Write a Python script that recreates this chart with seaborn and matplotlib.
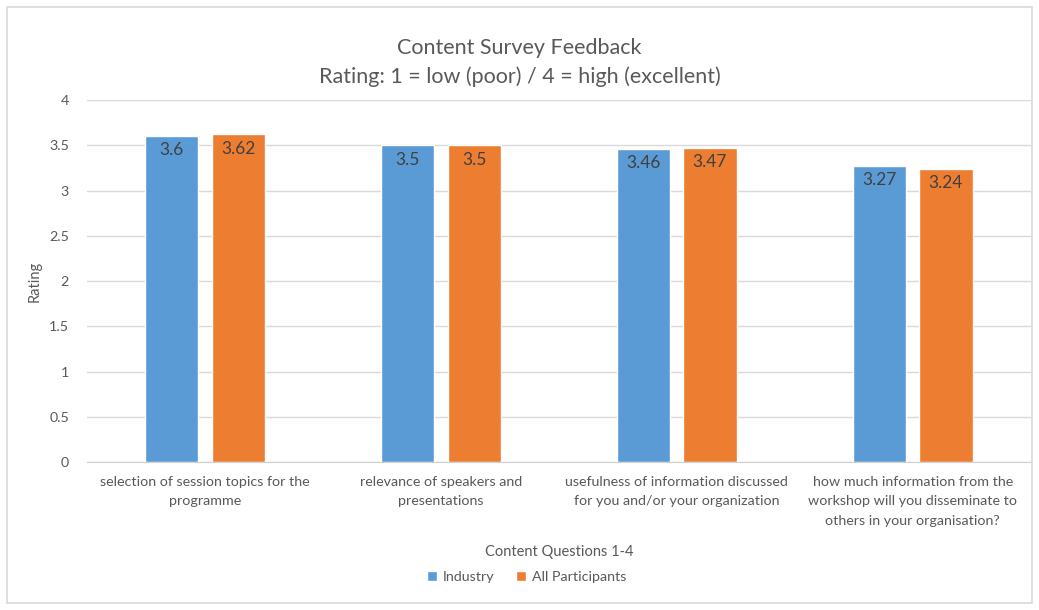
import numpy as np
import pandas as pd
import matplotlib
matplotlib.use("Agg")
import matplotlib.pyplot as plt
import seaborn as sns
from matplotlib.patches import Rectangle

# dados
questions = [
    "selection of session topics for the\nprogramme",
    "relevance of speakers and\npresentations",
    "usefulness of information discussed\nfor you and/or your organization",
    "how much information from the\nworkshop will you disseminate to\nothers in your organisation?",
]
industry = [3.6, 3.5, 3.46, 3.27]
all_participants = [3.62, 3.5, 3.47, 3.24]
series = ["Industry", "All Participants"]
colors = ["#5B9BD5", "#ED7D31"]

df = pd.DataFrame({
    "question": questions * 2,
    "group": [series[0]] * 4 + [series[1]] * 4,
    "rating": industry + all_participants,
})

sns.set_style("white")
plt.rcParams["font.family"] = ["Lato", "DejaVu Sans"]
grey = "#595959"

fig = plt.figure(figsize=(10.39, 6.10), dpi=100)
ax = fig.add_axes([0.0837, 0.2426, 0.9083, 0.5934])

sns.barplot(data=df, x="question", y="rating", hue="group", palette=colors,
            width=0.564, gap=0.2, ax=ax, saturation=1)

for c in ax.containers:
    ax.bar_label(c, labels=[f"{v:g}" for v in c.datavalues], padding=-16,
                 fontsize=12.5, color="#404040")

ax.set_ylim(0, 4)
ax.set_yticks(np.arange(0, 4.01, 0.5))
ax.set_yticklabels(["0", "0.5", "1", "1.5", "2", "2.5", "3", "3.5", "4"])
ax.set_xlim(-0.5, 3.5)
ax.yaxis.grid(True, color="#d9d9d9", linewidth=1)
ax.set_axisbelow(True)
for s in ["left", "right", "top"]:
    ax.spines[s].set_visible(False)
ax.spines["bottom"].set_color("#d0d0d0")
ax.tick_params(axis="both", length=0, colors=grey, labelsize=10.3)
ax.tick_params(axis="x", pad=10)
ax.tick_params(axis="y", pad=13)
for t in ax.get_xticklabels():
    t.set_linespacing(1.75)

ax.set_ylabel("Rating", color=grey, fontsize=10.5)
ax.yaxis.set_label_coords(-0.048, 0.5)
ax.set_xlabel("Content Questions 1-4", color=grey, fontsize=10.5)
ax.xaxis.set_label_coords(0.5, -0.23)

fig.text(0.5, 0.921, "Content Survey Feedback", ha="center", va="center",
         fontsize=15.5, color=grey)
fig.text(0.5, 0.874, "Rating: 1 = low (poor) / 4 = high (excellent)", ha="center",
         va="center", fontsize=15.5, color=grey)

ax.legend(loc="center", bbox_to_anchor=(0.507, 0.054), bbox_transform=fig.transFigure,
          ncol=2, frameon=False, fontsize=10.3, handlelength=0.7, handleheight=0.7,
          columnspacing=1.5, handletextpad=0.4, labelcolor=grey)

fig.patches.append(Rectangle((0.007, 0.011), 0.986, 0.978, transform=fig.transFigure,
                             fill=False, edgecolor="#d9d9d9", linewidth=1.2))

fig.savefig("out.png", dpi=100)
